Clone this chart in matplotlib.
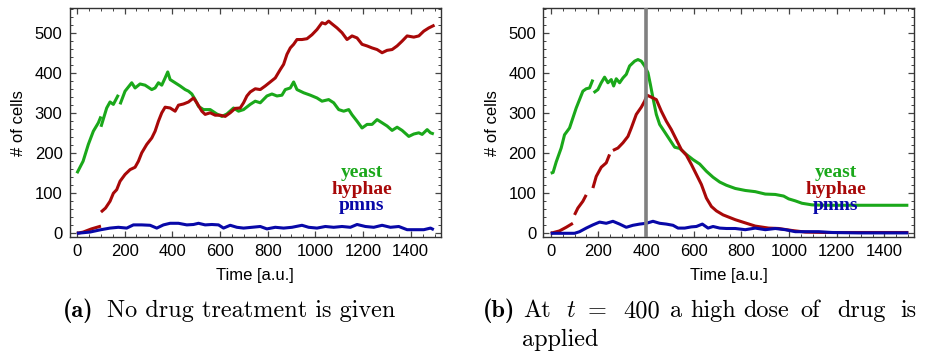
import numpy as np
import matplotlib
matplotlib.use("Agg")
import matplotlib.pyplot as plt
from matplotlib.ticker import MultipleLocator

nan = np.nan

# ---------------- Panel (a): no drug ----------------
a_yeast_t = [0, 26, 48, 69, 90, 101, nan, 101, 125, 139, 153, 174, nan, 181, 202, 230, 244, 265, 286, 314, 328,
             342, 356, 370, 381, 391, 412, 433, 454, 468, 482, 496, 510, 531, 559, 587, 608, 629, 657,
             678, 699, 727, 748, 769, 797, 818, 839, 860, 874, 895, 909, 923, 951, 979, 1007, 1028,
             1056, 1077, 1098, 1119, 1140, 1154, 1175, 1196, 1217, 1238, 1259, 1280, 1301, 1322, 1343,
             1364, 1392, 1413, 1434, 1448, 1469, 1483, 1497]
a_yeast_v = [150, 180, 222, 255, 276, 292, nan, 266, 313, 328, 322, 346, nan, 322, 355, 376, 363, 373, 370, 359, 363,
             376, 370, 388, 403, 384, 376, 368, 359, 355, 348, 334, 317, 309, 309, 298, 292, 298, 313,
             305, 309, 322, 330, 326, 343, 348, 343, 345, 359, 363, 378, 359, 351, 345, 338, 330,
             334, 326, 309, 305, 309, 296, 280, 263, 272, 272, 284, 276, 268, 257, 265,
             257, 242, 248, 251, 247, 259, 251, 248]

a_hyph_t = [0, 26, 61, 101, nan, 101, 120, 139, 153, 167, 181, 202, 223, 244, 258, 272, 293, 314, 328, 342,
            356, 370, 391, 412, 426, 447, 468, 489, 503, 524, 538, 559, 580, 601, 622, 643, 664,
            685, 699, 713, 727, 748, 769, 790, 811, 832, 853, 867, 881, 895, 909, 923, 944,
            965, 986, 1007, 1028, 1042, 1056, 1070, 1091, 1112, 1133, 1154, 1175, 1196, 1217,
            1238, 1259, 1280, 1301, 1322, 1343, 1364, 1385, 1413, 1434, 1455, 1476, 1500]
a_hyph_v = [0, 3, 11, 18, nan, 53, 63, 80, 100, 109, 130, 147, 159, 165, 180, 201, 222, 238, 255, 280,
            301, 315, 313, 305, 320, 323, 328, 338, 326, 305, 297, 301, 295, 295, 292, 301, 312,
            313, 326, 343, 353, 361, 359, 368, 378, 388, 409, 422, 447, 463, 472, 484, 484,
            486, 496, 509, 526, 523, 530, 523, 513, 501, 484, 493, 488, 472, 468,
            463, 459, 451, 457, 459, 468, 480, 493, 490, 493, 505, 513, 520]

a_pmn_t = [0, 54, 101, 139, 174, 209, 237, 272, 307, 335, 363, 391, 426, 461, 489, 510, 538, 566, 594,
           615, 643, 671, 699, 734, 769, 797, 832, 867, 902, 944, 972, 1007, 1042, 1077, 1112,
           1147, 1175, 1210, 1245, 1280, 1315, 1350, 1385, 1420, 1455, 1483, 1497]
a_pmn_v = [0, 3, 9, 13, 15, 13, 21, 21, 20, 13, 21, 25, 25, 21, 22, 25, 21, 22, 21,
           13, 20, 15, 13, 15, 17, 11, 15, 13, 15, 20, 15, 13, 17, 15, 17,
           15, 22, 17, 15, 20, 15, 17, 9, 9, 9, 13, 9]

# ---------------- Panel (b): drug at t = 400 ----------------
b_yeast_t = [0, 10, 23, 44, 58, 79, 93, 107, 121, 135, 149, 163, 177, nan, 180, 198, 212, 226, 240, 254, 264,
             275, 289, 303, 317, 331, 352, 366, 380, 394, 408, 418, 429, 443, 457, 478, 499, 520,
             541, 569, 597, 625, 653, 681, 709, 737, 774, 816, 858, 900, 942, 977, 998, 1026,
             1054, 1096, 1152, 1292, 1500]
b_yeast_v = [150, 152, 178, 213, 246, 263, 288, 313, 334, 355, 361, 363, 384, nan, 351, 359, 376, 390, 376, 384, 368,
             386, 376, 388, 397, 418, 430, 434, 430, 418, 401, 372, 338, 297, 272, 253, 234, 215,
             212, 197, 184, 173, 155, 140, 128, 120, 112, 107, 104, 98, 97, 93, 86, 81,
             75, 71, 70, 70, 70]

b_hyph_t = [0, 37, 65, 93, nan, 100, 114, 135, 149, nan, 177, 191, 212, 233, 247, nan, 261, 282, 303, 324,
            338, 359, 380, 394, 404, 422, 443, 464, 485, 506, 527, 548, 569, 590, 611, 632, 653,
            674, 695, 723, 774, 816, 858, 914, 956, 1012, 1068, 1152, 1500]
b_hyph_v = [0, 6, 15, 25, nan, 46, 63, 80, 96, nan, 113, 142, 165, 176, 197, nan, 207, 213, 226, 242,
            263, 297, 315, 330, 345, 340, 334, 305, 280, 259, 234, 209, 195, 172, 147, 122, 88,
            67, 56, 46, 34, 26, 18, 13, 12, 7, 3, 2, 2]

b_pmn_t = [0, 100, 121, 149, 177, 205, 233, 261, 289, 317, 345, 373, 401, 429, 457, 485, 513, 534,
           562, 590, 611, 636, 660, 681, 709, 737, 774, 816, 858, 900, 942, 984, 1026, 1082,
           1124, 1180, 1292, 1500]
b_pmn_v = [0, 0, 4, 13, 21, 28, 25, 30, 23, 15, 20, 23, 25, 30, 25, 23, 20, 13,
           13, 16, 17, 23, 13, 17, 13, 12, 12, 9, 13, 9, 12, 9, 4, 4,
           4, 2, 1, 1]

drug_time = 400

series_names = ["yeast", "hyphae", "pmns"]
colors = ["#1aa81a", "#a80808", "#0808a8"]

caption_a = "No drug treatment is given"
caption_b_words = ["At", "$t$", "=", "400", "a", "high", "dose", "of", "drug", "is"]
caption_b_line2 = "applied"

W, H = 930, 358
plt.rcParams["mathtext.fontset"] = "cm"
fig = plt.figure(figsize=(W / 100, H / 100), dpi=100)

tick_font = dict(family="Liberation Sans", size=12)


def make_axes(left_px, data, vline=None):
    ax = fig.add_axes([left_px / W, (H - 237.3) / H, 371 / W, 229 / H])
    for (t, v), c in zip(data, colors):
        ax.plot(t, v, color=c, lw=2.2, solid_capstyle="butt")
    if vline is not None:
        ax.axvline(vline, color="#808080", lw=2.6, zorder=3)
    ax.set_xlim(-31, 1525)
    ax.set_ylim(-10, 562)
    ax.xaxis.set_major_locator(MultipleLocator(200))
    ax.xaxis.set_minor_locator(MultipleLocator(50))
    ax.yaxis.set_major_locator(MultipleLocator(100))
    ax.yaxis.set_minor_locator(MultipleLocator(20))
    ax.tick_params(which="both", direction="in", top=True, right=True, color="#444444")
    ax.tick_params(which="major", length=4.5, width=0.9, labelsize=12, pad=5)
    ax.tick_params(which="minor", length=2.5, width=0.7)
    for lab in ax.get_xticklabels() + ax.get_yticklabels():
        lab.set_family("Liberation Sans")
    for s in ax.spines.values():
        s.set_color("#333333")
        s.set_linewidth(1.0)
    ax.set_xlabel("Time [a.u.]", fontdict=tick_font, labelpad=6)
    ax.set_ylabel("# of cells", fontdict=tick_font, labelpad=6)
    ys = [0.283, 0.208, 0.137]
    for name, c, y in zip(series_names, colors, ys):
        ax.text(0.788, y, name, transform=ax.transAxes, ha="center", va="center",
                color=c, fontsize=14, fontweight="bold", family="Liberation Serif")
    return ax


make_axes(69.5, [(a_yeast_t, a_yeast_v), (a_hyph_t, a_hyph_v), (a_pmn_t, a_pmn_v)])
make_axes(543.3, [(b_yeast_t, b_yeast_v), (b_hyph_t, b_hyph_v), (b_pmn_t, b_pmn_v)], vline=drug_time)

cap_size = 17.5
y1 = 1 - 311 / H
y2 = 1 - 340 / H
fig.text(63 / W, y1, "(a)", family="cmb10", fontsize=cap_size, va="center", ha="left")
fig.text(107 / W, y1, caption_a, family="cmr10", fontsize=cap_size, va="center", ha="left")
fig.text(483 / W, y1, "(b)", family="cmb10", fontsize=cap_size, va="center", ha="left")
# justified first line of caption (b): word left edges in pixels
word_x = [523, 566, 588, 623, 670, 690, 743, 800, 837, 900]
for wd, xp in zip(caption_b_words, word_x):
    fig.text(xp / W, y1, wd, family="cmr10", fontsize=cap_size, va="center", ha="left")
fig.text(522 / W, y2, caption_b_line2, family="cmr10", fontsize=cap_size, va="center", ha="left")

fig.savefig("out.png", dpi=100)
